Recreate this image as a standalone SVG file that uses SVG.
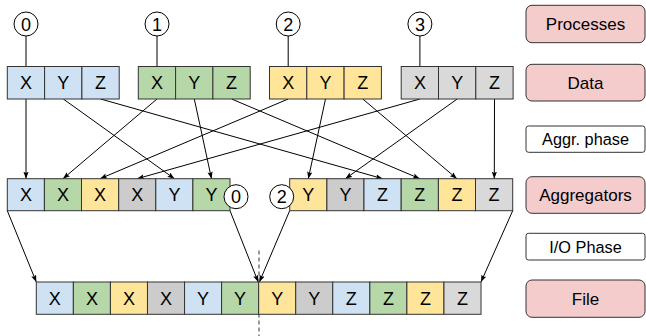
<svg xmlns="http://www.w3.org/2000/svg" width="646" height="336" viewBox="0 0 646 336">
<defs>
<marker id="ah" viewBox="0 0 8 6" refX="8" refY="3" markerWidth="7" markerHeight="5.5" markerUnits="userSpaceOnUse" orient="auto">
<path d="M0,0 L8,3 L0,6 L1.5,3 z" fill="#000"/>
</marker>
<style>
.c{stroke:#333;stroke-width:1}
.b{fill:#cfe2f3}.g{fill:#b6d7a8}.y{fill:#ffe599}.k{fill:#cccccc}.l{fill:#d9d9d9}
.t{font-family:"Liberation Sans",Arial,sans-serif;font-size:18px;text-anchor:middle;fill:#000}
.lab{font-family:"Liberation Sans",Arial,sans-serif;font-size:17px;text-anchor:middle;fill:#000}
.sl{font-family:"Liberation Sans",Arial,sans-serif;font-size:16.3px;text-anchor:middle;fill:#000}
.pk{fill:#f4cccc;stroke:#333;stroke-width:1}
.wh{fill:#fff;stroke:#333;stroke-width:1}
.circ{fill:#fff;stroke:#000;stroke-width:1}
.ln{stroke:#000;stroke-width:1;fill:none}
.ar{stroke:#000;stroke-width:1;fill:none;marker-end:url(#ah)}
</style>
</defs>
<rect width="646" height="336" fill="#fff"/>

<g id="connectors">
<line class="ln" x1="26" y1="36" x2="26" y2="66.5"/>
<line class="ln" x1="157" y1="36" x2="157" y2="66.5"/>
<line class="ln" x1="288.2" y1="36" x2="288.2" y2="66.5"/>
<line class="ln" x1="419.9" y1="36" x2="419.9" y2="66.5"/>
<line class="ar" x1="26" y1="99" x2="26" y2="178.7"/>
<line class="ar" x1="63.3" y1="99" x2="174.4" y2="178.7"/>
<line class="ar" x1="100.6" y1="99" x2="382.6" y2="178.7"/>
<line class="ar" x1="157" y1="99" x2="63" y2="178.7"/>
<line class="ar" x1="194.3" y1="99" x2="211.5" y2="178.7"/>
<line class="ar" x1="231.6" y1="99" x2="419.8" y2="178.7"/>
<line class="ar" x1="288.2" y1="99" x2="100.1" y2="178.7"/>
<line class="ar" x1="325.5" y1="99" x2="308.3" y2="178.7"/>
<line class="ar" x1="362.8" y1="99" x2="456.9" y2="178.7"/>
<line class="ar" x1="419.9" y1="99" x2="137.2" y2="178.7"/>
<line class="ar" x1="457.2" y1="99" x2="345.4" y2="178.7"/>
<line class="ar" x1="494.5" y1="99" x2="494.3" y2="178.7"/>
<line class="ar" x1="7.3" y1="210.7" x2="36.3" y2="282"/>
<line class="ar" x1="230" y1="210.7" x2="258.2" y2="282"/>
<line class="ar" x1="289.7" y1="210.7" x2="259.4" y2="282"/>
<line class="ar" x1="512.7" y1="210.7" x2="481" y2="282"/>
<line x1="259" y1="250.5" x2="259" y2="336" stroke="#333" stroke-width="1" stroke-dasharray="4,3"/>
</g>

<g id="proc0"><circle class="circ" cx="26" cy="24" r="12"/><text class="t" x="26" y="30.5">0</text></g>
<g id="proc1"><circle class="circ" cx="157" cy="24" r="12"/><text class="t" x="157" y="30.5">1</text></g>
<g id="proc2"><circle class="circ" cx="288.2" cy="24" r="12"/><text class="t" x="288.2" y="30.5">2</text></g>
<g id="proc3"><circle class="circ" cx="419.9" cy="24" r="12"/><text class="t" x="419.9" y="30.5">3</text></g>

<g id="data0">
<rect class="c b" x="7.3" y="66.5" width="37.3" height="32.5"/>
<rect class="c b" x="44.6" y="66.5" width="37.3" height="32.5"/>
<rect class="c b" x="81.9" y="66.5" width="37.3" height="32.5"/>
<text class="t" x="26" y="89">X</text><text class="t" x="63.3" y="89">Y</text><text class="t" x="100.6" y="89">Z</text>
</g>
<g id="data1">
<rect class="c g" x="138.3" y="66.5" width="37.3" height="32.5"/>
<rect class="c g" x="175.6" y="66.5" width="37.3" height="32.5"/>
<rect class="c g" x="212.9" y="66.5" width="37.3" height="32.5"/>
<text class="t" x="157" y="89">X</text><text class="t" x="194.3" y="89">Y</text><text class="t" x="231.6" y="89">Z</text>
</g>
<g id="data2">
<rect class="c y" x="269.5" y="66.5" width="37.3" height="32.5"/>
<rect class="c y" x="306.8" y="66.5" width="37.3" height="32.5"/>
<rect class="c y" x="344.1" y="66.5" width="37.3" height="32.5"/>
<text class="t" x="288.2" y="89">X</text><text class="t" x="325.5" y="89">Y</text><text class="t" x="362.8" y="89">Z</text>
</g>
<g id="data3">
<rect class="c l" x="401.2" y="66.5" width="37.3" height="32.5"/>
<rect class="c l" x="438.5" y="66.5" width="37.3" height="32.5"/>
<rect class="c l" x="475.8" y="66.5" width="37.3" height="32.5"/>
<text class="t" x="419.9" y="89">X</text><text class="t" x="457.2" y="89">Y</text><text class="t" x="494.5" y="89">Z</text>
</g>

<g id="agg0">
<rect class="c b" x="7.3" y="178.7" width="37.1" height="32"/>
<rect class="c g" x="44.4" y="178.7" width="37.1" height="32"/>
<rect class="c y" x="81.5" y="178.7" width="37.2" height="32"/>
<rect class="c k" x="118.7" y="178.7" width="37.1" height="32"/>
<rect class="c b" x="155.8" y="178.7" width="37.1" height="32"/>
<rect class="c g" x="192.9" y="178.7" width="37.1" height="32"/>
<text class="t" x="25.9" y="201">X</text><text class="t" x="63" y="201">X</text><text class="t" x="100.1" y="201">X</text>
<text class="t" x="137.2" y="201">X</text><text class="t" x="174.4" y="201">Y</text><text class="t" x="211.5" y="201">Y</text>
<circle class="circ" cx="236" cy="196.7" r="12"/><text class="t" x="236" y="203">0</text>
</g>
<g id="agg2">
<rect class="c y" x="289.7" y="178.7" width="37.2" height="32"/>
<rect class="c k" x="326.9" y="178.7" width="37.1" height="32"/>
<rect class="c b" x="364" y="178.7" width="37.2" height="32"/>
<rect class="c g" x="401.2" y="178.7" width="37.2" height="32"/>
<rect class="c y" x="438.4" y="178.7" width="37.1" height="32"/>
<rect class="c l" x="475.5" y="178.7" width="37.2" height="32"/>
<text class="t" x="308.3" y="201">Y</text><text class="t" x="345.4" y="201">Y</text><text class="t" x="382.6" y="201">Z</text>
<text class="t" x="419.8" y="201">Z</text><text class="t" x="456.9" y="201">Z</text><text class="t" x="494.1" y="201">Z</text>
<circle class="circ" cx="281.7" cy="196.7" r="12"/><text class="t" x="281.7" y="203">2</text>
</g>

<g id="file">
<rect class="c b" x="36.3" y="282" width="37.06" height="32.3"/>
<rect class="c g" x="73.36" y="282" width="37.06" height="32.3"/>
<rect class="c y" x="110.42" y="282" width="37.06" height="32.3"/>
<rect class="c k" x="147.48" y="282" width="37.06" height="32.3"/>
<rect class="c b" x="184.54" y="282" width="37.06" height="32.3"/>
<rect class="c g" x="221.6" y="282" width="37.06" height="32.3"/>
<rect class="c y" x="258.66" y="282" width="37.06" height="32.3"/>
<rect class="c k" x="295.72" y="282" width="37.06" height="32.3"/>
<rect class="c b" x="332.78" y="282" width="37.06" height="32.3"/>
<rect class="c g" x="369.84" y="282" width="37.06" height="32.3"/>
<rect class="c y" x="406.9" y="282" width="37.06" height="32.3"/>
<rect class="c l" x="443.96" y="282" width="37.06" height="32.3"/>
<text class="t" x="54.8" y="304.5">X</text><text class="t" x="91.9" y="304.5">X</text><text class="t" x="129" y="304.5">X</text>
<text class="t" x="166" y="304.5">X</text><text class="t" x="203.1" y="304.5">Y</text><text class="t" x="240.1" y="304.5">Y</text>
<text class="t" x="277.2" y="304.5">Y</text><text class="t" x="314.3" y="304.5">Y</text><text class="t" x="351.3" y="304.5">Z</text>
<text class="t" x="388.4" y="304.5">Z</text><text class="t" x="425.4" y="304.5">Z</text><text class="t" x="462.5" y="304.5">Z</text>
</g>

<g id="label-processes"><rect class="pk" x="526" y="5.3" width="119" height="37.4" rx="6"/><text class="lab" x="585.5" y="30">Processes</text></g>
<g id="label-data"><rect class="pk" x="526" y="64.3" width="119" height="36.7" rx="6"/><text class="lab" x="585.5" y="88.5">Data</text></g>
<g id="label-aggr"><rect class="wh" x="526" y="126" width="119" height="26.3" rx="2.5"/><text class="sl" x="585.5" y="145">Aggr. phase</text></g>
<g id="label-aggregators"><rect class="pk" x="526" y="176.7" width="119" height="36.6" rx="6"/><text class="lab" x="585.5" y="201">Aggregators</text></g>
<g id="label-io"><rect class="wh" x="526" y="233.3" width="119" height="26.7" rx="2.5"/><text class="sl" x="585.5" y="252.5">I/O Phase</text></g>
<g id="label-file"><rect class="pk" x="526" y="280" width="119" height="37.3" rx="6"/><text class="lab" x="585.5" y="304.5">File</text></g>
</svg>
